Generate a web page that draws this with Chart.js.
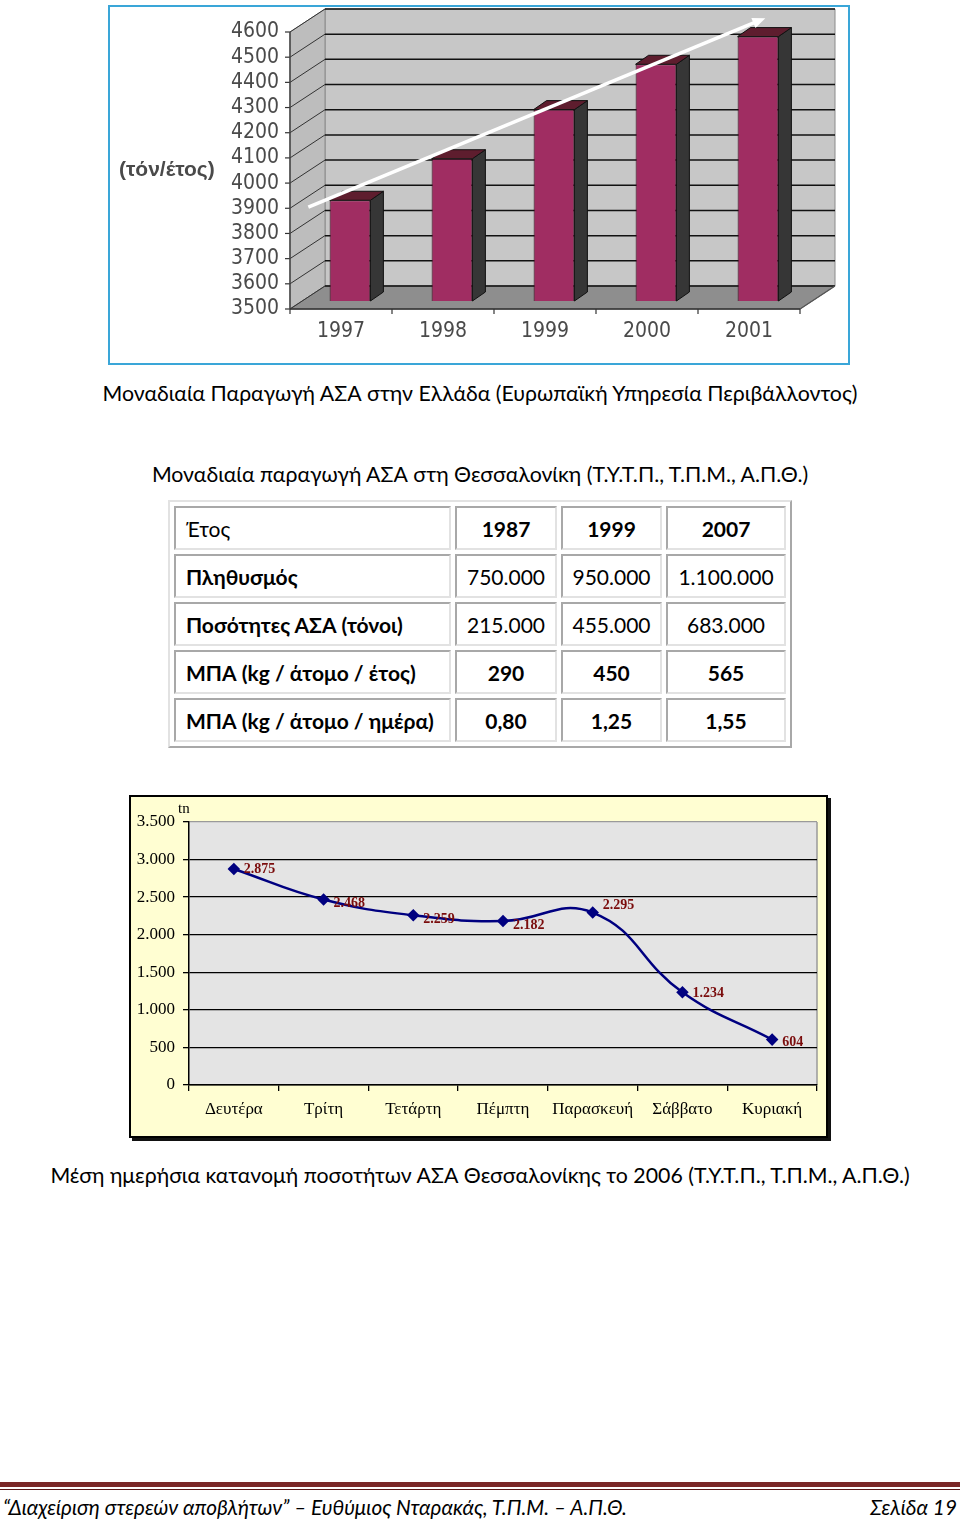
<!DOCTYPE html>
<html lang="el">
<head>
<meta charset="utf-8">
<title>Μοναδιαία παραγωγή ΑΣΑ</title>
<script src="https://cdn.jsdelivr.net/npm/chart.js@4.4.1/dist/chart.umd.min.js"></script>
<style>
  html, body { margin: 0; padding: 0; background: #fff; }
  #page { position: relative; width: 960px; height: 1520px; overflow: hidden; font-family: Lato, "Open Sans", sans-serif; color: #000; }
  .caption { position: absolute; left: 0; width: 960px; text-align: center; font-size: 21.3px; line-height: 24px; }
  #barFrame { position: absolute; left: 108px; top: 5px; width: 742px; height: 360px; box-sizing: border-box; border: 2px solid #3aa6d8; background: #fff; }
  #lineFrame { position: absolute; left: 129px; top: 795px; width: 699px; height: 343px; box-sizing: border-box; border: 2px solid #000; box-shadow: 3px 3px 0 #111; background: #fffed2; }
  canvas { display: block; }
  #cityTable { position: absolute; left: 168px; top: 500px; border-collapse: separate; border-spacing: 4px; border: 2px solid; border-color: #e2e2e2 #a8a8a8 #a8a8a8 #e2e2e2; font-size: 21px; }
  #cityTable td { height: 40px; border: 2px solid; border-color: #a8a8a8 #e2e2e2 #e2e2e2 #a8a8a8; padding: 0 10px; white-space: nowrap; }
  #cityTable td.num { text-align: center; padding: 0; }
  #cityTable .b { font-weight: bold; }
  #footLine1 { position: absolute; left: 0; top: 1482px; width: 960px; height: 5px; background: #7a2727; }
  #footLine2 { position: absolute; left: 0; top: 1489px; width: 960px; height: 1px; background: #5a1818; }
  #footText { position: absolute; left: 3px; top: 1495px; font-size: 20.8px; line-height: 24px; font-style: italic; }
  #footPage { position: absolute; right: 3px; top: 1495px; font-size: 20.8px; line-height: 24px; font-style: italic; }
</style>
</head>
<body>
<div id="page">
  <div id="barFrame"><canvas id="barChart" width="738" height="356"></canvas></div>
  <div class="caption" style="top:381px">Μοναδιαία Παραγωγή ΑΣΑ στην Ελλάδα (Ευρωπαϊκή Υπηρεσία Περιβάλλοντος)</div>
  <div class="caption" style="top:462px">Μοναδιαία παραγωγή ΑΣΑ στη Θεσσαλονίκη (Τ.Υ.Τ.Π., Τ.Π.Μ., Α.Π.Θ.)</div>
  <table id="cityTable"></table>
  <div id="lineFrame"><canvas id="lineChart" width="695" height="339"></canvas></div>
  <div class="caption" style="top:1163px">Μέση ημερήσια κατανομή ποσοτήτων ΑΣΑ Θεσσαλονίκης το 2006 (Τ.Υ.Τ.Π., Τ.Π.Μ., Α.Π.Θ.)</div>
  <div id="footLine1"></div>
  <div id="footLine2"></div>
  <div id="footText">“Διαχείριση στερεών αποβλήτων” – Ευθύμιος Νταρακάς, Τ.Π.Μ. – Α.Π.Θ.</div>
  <div id="footPage">Σελίδα 19</div>
</div>
<script>
// ---- data: Greece, unit production (tonnes / year) ----
const greeceYears = ['1997', '1998', '1999', '2000', '2001'];
const greeceTonnes = [3900, 4065, 4260, 4440, 4550];

// ---- data: Thessaloniki table ----
const tableYears = ['1987', '1999', '2007'];
const population = ['750.000', '950.000', '1.100.000'];
const wasteTonnes = ['215.000', '455.000', '683.000'];
const kgPerYear = ['290', '450', '565'];
const kgPerDay = ['0,80', '1,25', '1,55'];

// ---- data: daily distribution 2006 (tn) ----
const weekDays = ['Δευτέρα', 'Τρίτη', 'Τετάρτη', 'Πέμπτη', 'Παρασκευή', 'Σάββατο', 'Κυριακή'];
const dailyTonnes = [2875, 2468, 2259, 2182, 2295, 1234, 604];

// build table
(function buildTable() {
    const rows = [
        { label: 'Έτος', labelBold: false, cells: tableYears, bold: true },
        { label: 'Πληθυσμός', labelBold: true, cells: population, bold: false },
        { label: 'Ποσότητες ΑΣΑ (τόνοι)', labelBold: true, cells: wasteTonnes, bold: false },
        { label: 'ΜΠΑ (kg / άτομο / έτος)', labelBold: true, cells: kgPerYear, bold: true },
        { label: 'ΜΠΑ (kg / άτομο / ημέρα)', labelBold: true, cells: kgPerDay, bold: true }
    ];
    const widths = [253, 98, 97, 116];
    const table = document.getElementById('cityTable');
    rows.forEach((r, ri) => {
        const tr = document.createElement('tr');
        const th = document.createElement('td');
        th.textContent = r.label;
        if (r.labelBold) th.className = 'b';
        if (ri === 0) th.style.width = widths[0] + 'px';
        tr.appendChild(th);
        r.cells.forEach((c, ci) => {
            const td = document.createElement('td');
            td.textContent = c;
            td.className = 'num' + (r.bold ? ' b' : '');
            if (ri === 0) td.style.width = widths[ci + 1] + 'px';
            tr.appendChild(td);
        });
        table.appendChild(tr);
    });
})();

function poly(ctx, pts, fill, stroke, lw) {
    ctx.beginPath();
    ctx.moveTo(pts[0][0], pts[0][1]);
    for (let i = 1; i < pts.length; i++) ctx.lineTo(pts[i][0], pts[i][1]);
    ctx.closePath();
    if (fill) { ctx.fillStyle = fill; ctx.fill(); }
    if (stroke) { ctx.strokeStyle = stroke; ctx.lineWidth = lw || 1; ctx.stroke(); }
}
function line(ctx, x1, y1, x2, y2, color, lw) {
    ctx.beginPath();
    ctx.moveTo(x1, y1);
    ctx.lineTo(x2, y2);
    ctx.strokeStyle = color;
    ctx.lineWidth = lw;
    ctx.stroke();
}

// 3D look for the bar chart
const WALL_DX = 35, WALL_DY = -23;
const BAR_SHIFT_X = 9, BAR_SHIFT_Y = -8;
const BAR_DX = 13, BAR_DY = -9;

const fake3d = {
    id: 'fake3d',
    beforeDraw(chart) {
        const { ctx, chartArea: a, scales: { x, y } } = chart;
        const L = a.left, R = a.right, T = a.top, B = a.bottom;
        ctx.save();
        // walls and floor
        poly(ctx, [[L + WALL_DX, T + WALL_DY], [R + WALL_DX, T + WALL_DY], [R + WALL_DX, B + WALL_DY], [L + WALL_DX, B + WALL_DY]], '#c7c7c7', '#8a8a8a', 1);
        poly(ctx, [[L, T], [L + WALL_DX, T + WALL_DY], [L + WALL_DX, B + WALL_DY], [L, B]], '#bdbdbd', '#8a8a8a', 1);
        poly(ctx, [[L, B], [L + WALL_DX, B + WALL_DY], [R + WALL_DX, B + WALL_DY], [R, B]], '#8e8e8e', '#6a6a6a', 1);
        // grid
        y.ticks.forEach(t => {
            const py = y.getPixelForValue(t.value);
            line(ctx, L + WALL_DX, py + WALL_DY, R + WALL_DX, py + WALL_DY, '#111', 1.5);
            line(ctx, L, py, L + WALL_DX, py + WALL_DY, '#333', 1);
            line(ctx, L - 5, py, L, py, '#333', 1.2);
        });
        // axes
        line(ctx, L, T, L, B, '#444', 1.5);
        line(ctx, L, B, R, B, '#333', 1.5);
        line(ctx, R, B, R + WALL_DX, B + WALL_DY, '#555', 1.2);
        const n = greeceYears.length;
        for (let i = 0; i <= n; i++) {
            const px = L + i * (R - L) / n;
            line(ctx, px, B, px, B + 5, '#333', 1.2);
        }
        ctx.restore();
    },
    beforeDatasetDraw(chart) {
        chart.ctx.save();
        chart.ctx.translate(BAR_SHIFT_X, BAR_SHIFT_Y);
    },
    afterDatasetDraw(chart, args) {
        const ctx = chart.ctx;
        args.meta.data.forEach(bar => {
            const w = bar.width;
            const l = bar.x - w / 2, r = bar.x + w / 2, t = bar.y, b = bar.base;
            poly(ctx, [[r, t], [r + BAR_DX, t + BAR_DY], [r + BAR_DX, b + BAR_DY], [r, b]], '#363636', '#111', 1);
            poly(ctx, [[l, t], [l + BAR_DX, t + BAR_DY], [r + BAR_DX, t + BAR_DY], [r, t]], '#5e1d2e', '#111', 1);
        });
        ctx.restore();
    },
    afterDraw(chart) {
        const { ctx, chartArea: a, scales: { x, y } } = chart;
        ctx.save();
        // unit label
        ctx.font = 'bold 21px "Liberation Sans", Arial, sans-serif';
        ctx.fillStyle = '#4a4a4a';
        ctx.textBaseline = 'middle';
        ctx.fillText('(τόν/έτος)', 9, (a.top + a.bottom) / 2);
        // trend arrow
        const x1 = x.getPixelForValue(-0.32), y1 = y.getPixelForValue(3905);
        const x2 = x.getPixelForValue(4.16), y2 = y.getPixelForValue(4655);
        const ang = Math.atan2(y2 - y1, x2 - x1);
        line(ctx, x1, y1, x2 - 10 * Math.cos(ang), y2 - 10 * Math.sin(ang), '#fff', 3.5);
        ctx.beginPath();
        ctx.moveTo(x2, y2);
        ctx.lineTo(x2 - 14 * Math.cos(ang - 0.4), y2 - 14 * Math.sin(ang - 0.4));
        ctx.lineTo(x2 - 14 * Math.cos(ang + 0.4), y2 - 14 * Math.sin(ang + 0.4));
        ctx.closePath();
        ctx.fillStyle = '#fff';
        ctx.fill();
        ctx.restore();
    }
};

const narrowFont = "'DejaVu Sans Condensed', 'Liberation Sans Narrow', 'Arial Narrow', sans-serif";

new Chart(document.getElementById('barChart'), {
    type: 'bar',
    data: {
        labels: greeceYears,
        datasets: [{
            data: greeceTonnes,
            base: 3500,
            backgroundColor: '#a02d62',
            borderColor: '#2a0a16',
            borderWidth: 1,
            categoryPercentage: 1,
            barPercentage: 0.4,
            clip: false
        }]
    },
    options: {
        responsive: false,
        animation: false,
        layout: { padding: { top: 25, right: 48, left: 0, bottom: 0 } },
        plugins: { legend: { display: false }, tooltip: { enabled: false } },
        scales: {
            y: {
                min: 3500,
                max: 4600,
                afterFit: s => { s.width = 180; },
                grid: { display: false, drawTicks: false },
                border: { display: false },
                ticks: {
                    stepSize: 100,
                    autoSkip: false,
                    padding: 11,
                    color: '#4a4a4a',
                    font: { family: narrowFont, size: 21 },
                    callback: v => String(v)
                }
            },
            x: {
                afterFit: s => { s.height = 54; },
                grid: { display: false, drawTicks: false },
                border: { display: false },
                ticks: { padding: 10, color: '#4a4a4a', font: { family: narrowFont, size: 21 } }
            }
        }
    },
    plugins: [fake3d]
});

// line chart helpers
const fmtGreek = v => String(v).replace(/\B(?=(\d{3})+(?!\d))/g, '.');
const labelNudgeY = [0, 4, 4, 4, -7, 1, 3];

const plotDecor = {
    id: 'plotDecor',
    beforeDraw(chart) {
        const { ctx, chartArea: a } = chart;
        ctx.save();
        ctx.fillStyle = '#e4e4e4';
        ctx.fillRect(a.left, a.top, a.right - a.left, a.bottom - a.top);
        line(ctx, a.right, a.top, a.right, a.bottom, '#9a9a9a', 1.5);
        ctx.restore();
    },
    afterDatasetsDraw(chart) {
        const { ctx, chartArea: a } = chart;
        const pts = chart.getDatasetMeta(0).data;
        ctx.save();
        ctx.font = 'bold 14px "Liberation Serif", "Times New Roman", serif';
        ctx.fillStyle = '#7a0c0c';
        ctx.textBaseline = 'middle';
        ctx.textAlign = 'left';
        pts.forEach((p, i) => {
            ctx.fillText(fmtGreek(dailyTonnes[i]), p.x + 10, p.y + labelNudgeY[i]);
        });
        ctx.font = '15px "Liberation Serif", "Times New Roman", serif';
        ctx.fillStyle = '#000';
        ctx.fillText('tn', a.left - 11, a.top - 13);
        ctx.restore();
    }
};

const serifFont = "'Liberation Serif', 'Times New Roman', serif";

new Chart(document.getElementById('lineChart'), {
    type: 'line',
    data: {
        labels: weekDays,
        datasets: [{
            data: dailyTonnes,
            borderColor: '#000080',
            borderWidth: 2.5,
            backgroundColor: '#000080',
            pointStyle: 'rectRot',
            pointRadius: 4.5,
            pointBackgroundColor: '#000080',
            pointBorderColor: '#000080',
            tension: 0.45,
            fill: false,
            clip: false
        }]
    },
    options: {
        responsive: false,
        animation: false,
        layout: { padding: { top: 25, right: 9, left: 0, bottom: 0 } },
        plugins: { legend: { display: false }, tooltip: { enabled: false } },
        scales: {
            y: {
                min: 0,
                max: 3500,
                afterFit: s => { s.width = 58; },
                grid: {
                    color: ctx => (ctx.tick && ctx.tick.value === 3500) ? '#9a9a9a' : '#000',
                    lineWidth: 1.3,
                    tickLength: 6,
                    tickColor: '#000'
                },
                border: { color: '#000', width: 1.5 },
                ticks: {
                    stepSize: 500,
                    padding: 8,
                    color: '#000',
                    font: { family: serifFont, size: 17 },
                    callback: v => fmtGreek(v)
                }
            },
            x: {
                offset: true,
                afterFit: s => { s.height = 51; },
                grid: { offset: true, drawOnChartArea: false, tickLength: 6, color: '#000', lineWidth: 1.3 },
                border: { color: '#000', width: 1.5 },
                ticks: { padding: 8, color: '#000', font: { family: serifFont, size: 17 } }
            }
        }
    },
    plugins: [plotDecor]
});
</script>
</body>
</html>
